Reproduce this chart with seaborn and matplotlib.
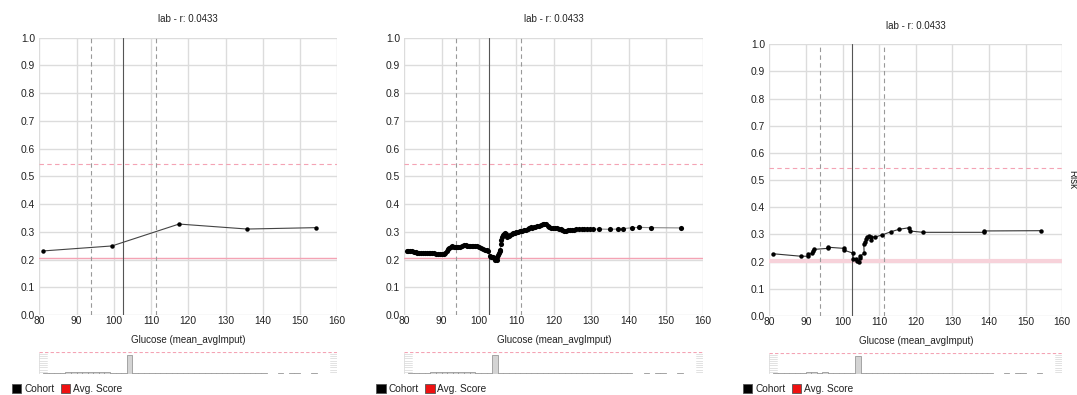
import numpy as np
import pandas as pd
import matplotlib
matplotlib.use("Agg")
import matplotlib.pyplot as plt
from matplotlib.patches import Rectangle
import seaborn as sns

# ---- data ----
title_text = "lab - r: 0.0433"
x_label = "Glucose (mean_avgImput)"

# left panel: coarse bins
p1_x = [81.0, 99.5, 117.5, 135.8, 154.2]
p1_y = [0.231, 0.249, 0.328, 0.310, 0.315]

# middle panel: fine bins
p2_x = [80.6, 81.0, 81.5, 82.0, 82.5, 83.0, 83.5, 84.0, 84.5, 85.0,
        85.5, 86.0, 86.5, 87.0, 87.5, 88.0, 88.5, 89.0, 89.5, 90.0,
        90.5, 91.0, 91.4, 91.7, 92.0, 92.4, 92.8, 93.2, 93.6, 94.0,
        94.5, 95.0, 95.5, 96.0, 96.4, 96.8, 97.2, 97.6, 98.0, 98.5,
        99.0, 99.5, 100.0, 100.5, 101.0, 101.5, 102.0, 102.4, 102.8, 103.2,
        103.6, 104.0, 104.4, 104.7, 104.9, 105.1, 105.3, 105.5, 105.7, 105.8,
        106.0, 106.2, 106.4, 106.7, 107.0, 107.3, 107.6, 108.0, 108.4, 108.8,
        109.2, 109.6, 110.0, 110.5, 111.0, 111.5, 112.0, 112.5, 113.0, 113.4,
        113.8, 114.2, 114.6, 115.0, 115.5, 116.0, 116.5, 117.0, 117.5, 118.0,
        118.4, 118.8, 119.3, 119.8, 120.3, 120.8, 121.3, 121.8, 122.3, 122.8,
        123.3, 123.8, 124.3, 124.8, 125.4, 126.0, 126.7, 127.5, 128.2, 129.0,
        129.8, 130.6, 132.0, 135.0, 137.3, 138.4, 141.0, 142.8, 146.0, 154.0]
p2_y = [0.232, 0.231, 0.230, 0.229, 0.228, 0.227, 0.225, 0.223, 0.223, 0.223,
        0.222, 0.222, 0.223, 0.222, 0.222, 0.222, 0.221, 0.221, 0.220, 0.220,
        0.221, 0.224, 0.230, 0.238, 0.243, 0.247, 0.248, 0.246, 0.245, 0.246,
        0.245, 0.246, 0.248, 0.252, 0.252, 0.250, 0.250, 0.249, 0.249, 0.248,
        0.248, 0.248, 0.247, 0.243, 0.238, 0.235, 0.233, 0.231, 0.212, 0.210,
        0.208, 0.205, 0.200, 0.198, 0.210, 0.218, 0.225, 0.230, 0.235, 0.255,
        0.270, 0.280, 0.288, 0.293, 0.295, 0.292, 0.283, 0.284, 0.287, 0.291,
        0.295, 0.297, 0.298, 0.300, 0.302, 0.303, 0.305, 0.306, 0.309, 0.314,
        0.316, 0.313, 0.316, 0.317, 0.320, 0.322, 0.325, 0.327, 0.328, 0.327,
        0.320, 0.316, 0.315, 0.314, 0.314, 0.313, 0.311, 0.309, 0.306, 0.304,
        0.303, 0.305, 0.306, 0.307, 0.308, 0.309, 0.310, 0.310, 0.310, 0.310,
        0.310, 0.310, 0.310, 0.309, 0.310, 0.311, 0.315, 0.316, 0.315, 0.314]

# right panel: adaptive bins
p3_x = [81.1, 88.6, 90.5, 90.7, 91.7, 91.8, 92.1, 96.0, 96.1, 100.3,
        100.5, 102.9, 102.9, 103.8, 103.9, 104.6, 104.7, 104.9, 105.9, 105.8,
        106.2, 106.3, 106.8, 107.2, 107.7, 107.8, 108.8, 110.9, 113.2, 115.4,
        118.2, 118.3, 121.9, 138.6, 138.6, 154.1]
p3_y = [0.229, 0.220, 0.220, 0.227, 0.231, 0.241, 0.245, 0.249, 0.253, 0.249,
        0.242, 0.231, 0.210, 0.209, 0.201, 0.198, 0.212, 0.221, 0.231, 0.264,
        0.272, 0.282, 0.292, 0.293, 0.280, 0.292, 0.290, 0.299, 0.310, 0.319,
        0.325, 0.313, 0.308, 0.308, 0.313, 0.314]

cutoff_mid = 102.6
cutoff_lo = 93.8
cutoff_hi = 111.2
avg_score = 0.204
upper_score = 0.545

# mini cohort histogram (relative counts, None = no bin)
hist_start = 81.0
hist_width = 1.5
hist_counts = [0.04, 0.04, 0.05, 0.05, 0.07, 0.07, 0.08, 0.08, 0.07, 0.08,
               0.07, 0.07, 0.06, 0.06, 0.05, 0.86, 0.04, 0.04, 0.04, 0.04,
               0.035, 0.035, 0.035, 0.03, 0.03, 0.03, 0.03, 0.03, 0.03, 0.03,
               0.03, 0.03, 0.03, 0.03, 0.03, 0.03, 0.03, 0.025, 0.025, 0.025,
               None, None, 0.025, None, 0.025, 0.025, None, None, 0.025, None]

W, H = 1077, 395


def rect(x0, x1, y0, y1):
    return [x0 / W, 1 - y1 / H, (x1 - x0) / W, (y1 - y0) / H]


sns.set_theme(style="white")
plt.rcParams["font.family"] = ["Liberation Sans", "DejaVu Sans"]
FS = 7.0

fig = plt.figure(figsize=(W / 100, H / 100), dpi=100)
fig.patch.set_facecolor("white")

panels = [
    dict(x=p1_x, y=p1_y, main=(39.3, 337.3, 37.7, 315), mini=(39.3, 337.3, 351.7, 374),
         title_y=19.3, xlab_y=340, leg_x=11.7, line="#444444", ms=3.2, pink_w=1.0,
         pink_c="#f4a3b4"),
    dict(x=p2_x, y=p2_y, main=(404.3, 703.3, 37.7, 315), mini=(404.3, 703.3, 351.7, 374),
         title_y=19.3, xlab_y=340, leg_x=376, line="#888888", ms=3.7, pink_w=1.0,
         pink_c="#f4a3b4"),
    dict(x=p3_x, y=p3_y, main=(769.3, 1062.3, 44.3, 316), mini=(769.3, 1062.3, 352.7, 374),
         title_y=26, xlab_y=341, leg_x=742.7, line="#333333", ms=3.2, pink_w=3.0,
         pink_c="#f7d2da"),
]

for p in panels:
    x0, x1, y0, y1 = p["main"]
    ax = fig.add_axes(rect(x0, x1, y0, y1))
    ax.set_xlim(80, 160)
    ax.set_ylim(0, 1)
    ax.set_xticks(range(80, 161, 10))
    ticks = np.round(np.arange(0, 1.01, 0.1), 1)
    ax.set_yticks(ticks)
    ax.set_yticklabels([f"{t:.1f}" for t in ticks])
    ax.grid(True, color="#dcdcdc", lw=1.0, zorder=0)
    for s in ax.spines.values():
        s.set_visible(False)
    ax.tick_params(axis="both", length=0, labelsize=FS + 0.4, colors="#222222")
    ax.tick_params(axis="y", pad=3)
    ax.tick_params(axis="x", pad=1.0)

    # reference lines
    ax.axhline(avg_score, color=p["pink_c"], lw=p["pink_w"], zorder=1)
    ax.axhline(upper_score, color="#f4a3b4", lw=0.8, ls=(0, (4, 3)), zorder=1)
    ax.axvline(cutoff_mid, color="#555555", lw=0.8, zorder=2)
    ax.axvline(cutoff_lo, color="#999999", lw=0.8, ls=(0, (4, 3)), zorder=2)
    ax.axvline(cutoff_hi, color="#999999", lw=0.8, ls=(0, (4, 3)), zorder=2)

    df = pd.DataFrame({"x": p["x"], "y": p["y"]})
    sns.lineplot(data=df, x="x", y="y", ax=ax, sort=False, estimator=None,
                 color=p["line"], lw=0.8, marker="o", markersize=p["ms"],
                 markeredgewidth=0, markerfacecolor="black", zorder=3)
    ax.set_xlabel("")
    ax.set_ylabel("")

    cx = (x0 + x1) / 2
    fig.text(cx / W, 1 - p["title_y"] / H, title_text, ha="center", va="center",
             fontsize=FS, color="#222222")
    fig.text(cx / W, 1 - p["xlab_y"] / H, x_label, ha="center", va="center",
             fontsize=FS, color="#222222")

    # mini cohort histogram
    mx0, mx1, my0, my1 = p["mini"]
    hx = fig.add_axes(rect(mx0, mx1, my0, my1))
    hx.set_xlim(80, 160)
    hx.set_ylim(0, 1)
    hx.axis("off")
    lefts = [hist_start + i * hist_width for i, c in enumerate(hist_counts) if c is not None]
    heights = [c for c in hist_counts if c is not None]
    hx.bar(lefts, heights, width=hist_width, align="edge", color="#d4d4d4",
           edgecolor="#999999", lw=0.6)
    hx.axhline(0.985, color="#f4a3b4", lw=0.8, ls=(0, (3, 2)))
    for yy in np.arange(0.1, 0.95, 0.1):
        hx.plot([80, 82], [yy, yy], color="#dddddd", lw=0.6)
        hx.plot([158, 160], [yy, yy], color="#dddddd", lw=0.6)
    hx.plot([80, 80], [0, 0.95], color="#dddddd", lw=0.6)
    hx.plot([160, 160], [0, 0.95], color="#dddddd", lw=0.6)

    # legend
    lx = p["leg_x"]
    fig.patches.append(Rectangle((lx / W, 1 - 393 / H), 9.5 / W, 9.5 / H,
                                 transform=fig.transFigure, facecolor="black",
                                 edgecolor="#555555", lw=0.6))
    fig.text((lx + 12.5) / W, 1 - 388.5 / H, "Cohort", ha="left", va="center",
             fontsize=FS + 0.3, color="#222222")
    fig.patches.append(Rectangle(((lx + 49) / W, 1 - 393 / H), 9.5 / W, 9.5 / H,
                                 transform=fig.transFigure, facecolor="#ee1111",
                                 edgecolor="#555555", lw=0.6))
    fig.text((lx + 61) / W, 1 - 388.5 / H, "Avg. Score", ha="left", va="center",
             fontsize=FS + 0.3, color="#222222")

fig.text(1072 / W, 1 - 180 / H, "Risk", rotation=-90, ha="center", va="center",
         fontsize=FS, color="#222222")

fig.savefig("out.png", dpi=100, facecolor="white")
